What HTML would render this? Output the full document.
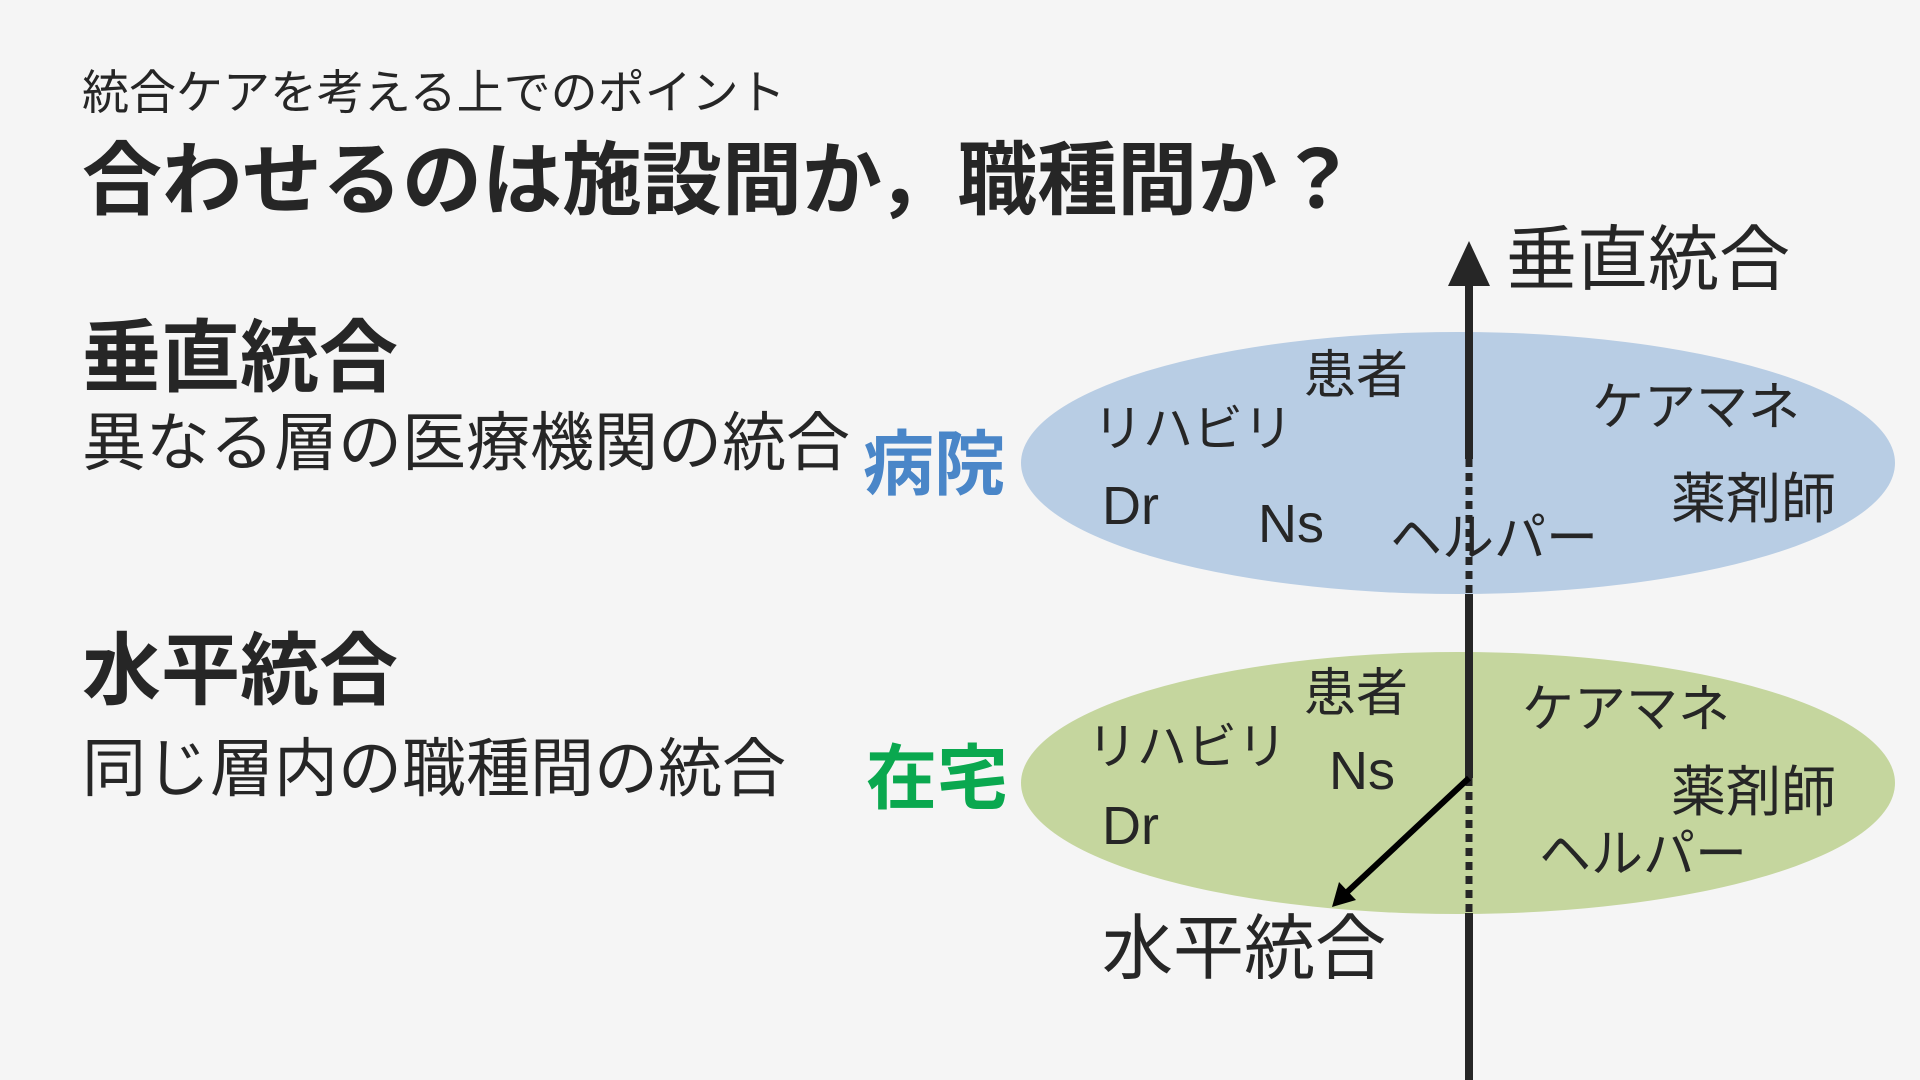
<!DOCTYPE html>
<html><head><meta charset="utf-8"><style>
body{margin:0;width:1920px;height:1080px;background:#f5f5f5;position:relative;overflow:hidden;font-family:"Liberation Sans","Noto Sans CJK JP",sans-serif;color:#262626}
.t{position:absolute;white-space:nowrap;line-height:1}
.b{font-weight:bold}
</style></head><body>
<svg width="1920" height="1080" style="position:absolute;left:0;top:0">
<ellipse cx="1458" cy="463" rx="437" ry="131" fill="#b8cde4"/>
<ellipse cx="1458" cy="783" rx="437" ry="131" fill="#c5d69e"/>
<line x1="1469" y1="280" x2="1469" y2="459" stroke="#262626" stroke-width="8"/>
<line x1="1469" y1="459" x2="1469" y2="594" stroke="#262626" stroke-width="7" stroke-dasharray="8,6"/>
<line x1="1469" y1="594" x2="1469" y2="778" stroke="#262626" stroke-width="8"/>
<line x1="1469" y1="778" x2="1469" y2="913" stroke="#262626" stroke-width="7" stroke-dasharray="8,6"/>
<line x1="1469" y1="913" x2="1469" y2="1080" stroke="#262626" stroke-width="8"/>
<polygon points="1469,241 1448,286 1490,286" fill="#262626"/>
<line x1="1469" y1="778" x2="1344" y2="895" stroke="#000" stroke-width="6"/>
<polygon points="1332,907 1339,882 1356,900" fill="#000"/>
</svg>
<div class="t" style="left:82px;top:69px;font-size:47px">統合ケアを考える上でのポイント</div>
<div class="t b" style="left:82px;top:141px;font-size:80px">合わせるのは施設間か，職種間か？</div>
<div class="t b" style="left:82px;top:318px;font-size:79px">垂直統合</div>
<div class="t" style="left:82px;top:411px;font-size:64px">異なる層の医療機関の統合</div>
<div class="t b" style="left:82px;top:631px;font-size:79px">水平統合</div>
<div class="t" style="left:82px;top:737px;font-size:64px">同じ層内の職種間の統合</div>
<div class="t b" style="left:863px;top:430px;font-size:71px;color:#4a86c8">病院</div>
<div class="t b" style="left:866px;top:744px;font-size:71px;color:#0aa84f">在宅</div>
<div class="t" style="left:1506px;top:225px;font-size:71px">垂直統合</div>
<div class="t" style="left:1102px;top:914px;font-size:71px">水平統合</div>
<div class="t" style="left:1304px;top:350px;font-size:52px">患者</div>
<div class="t" style="left:1093px;top:404px;font-size:50px">リハビリ</div>
<div class="t" style="left:1592px;top:382px;font-size:52px">ケアマネ</div>
<div class="t" style="left:1102px;top:479px;font-size:54px">Dr</div>
<div class="t" style="left:1258px;top:497px;font-size:54px">Ns</div>
<div class="t" style="left:1390px;top:513px;font-size:52px">ヘルパー</div>
<div class="t" style="left:1671px;top:472px;font-size:55px">薬剤師</div>
<div class="t" style="left:1304px;top:668px;font-size:52px">患者</div>
<div class="t" style="left:1087px;top:722px;font-size:50px">リハビリ</div>
<div class="t" style="left:1329px;top:744px;font-size:54px">Ns</div>
<div class="t" style="left:1102px;top:799px;font-size:54px">Dr</div>
<div class="t" style="left:1522px;top:684px;font-size:52px">ケアマネ</div>
<div class="t" style="left:1671px;top:765px;font-size:55px">薬剤師</div>
<div class="t" style="left:1539px;top:829px;font-size:52px">ヘルパー</div>
</body></html>
